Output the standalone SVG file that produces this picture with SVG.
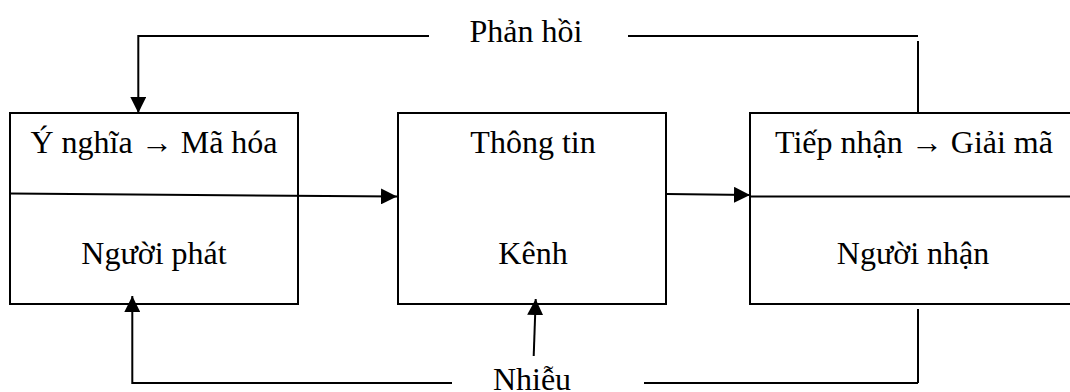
<svg xmlns="http://www.w3.org/2000/svg" width="1070" height="392" viewBox="0 0 1070 392">
  <style>
    .box { fill: #fff; stroke: #000; stroke-width: 2; }
    .ln { fill: none; stroke: #000; stroke-width: 2; }
    .t { font-family: "Liberation Serif", "Times New Roman", serif; font-size: 32px; fill: #000; text-anchor: middle; }
  </style>
  <defs>
    <marker id="ah" viewBox="0 0 16 16" refX="16" refY="8" markerWidth="16" markerHeight="16" markerUnits="userSpaceOnUse" orient="auto">
      <path d="M0,0 L16,8 L0,16 Z" fill="#000"/>
    </marker>
  </defs>
  <g id="sender">
    <rect class="box" x="10" y="113" width="288" height="191"/>
    <text class="t" x="154" y="153">Ý nghĩa → Mã hóa</text>
    <text class="t" x="154" y="264">Người phát</text>
  </g>
  <g id="channel">
    <rect class="box" x="398" y="113" width="268" height="191"/>
    <text class="t" x="533" y="153">Thông tin</text>
    <text class="t" x="533" y="264">Kênh</text>
  </g>
  <g id="receiver">
    <rect class="box" x="750" y="113" width="330" height="191"/>
    <line class="ln" x1="750" y1="196.5" x2="1070" y2="196.5"/>
    <text class="t" x="914" y="153">Tiếp nhận → Giải mã</text>
    <text class="t" x="913" y="264">Người nhận</text>
  </g>
  <g id="connectors">
    <line class="ln" x1="10" y1="193.5" x2="397" y2="196.5" marker-end="url(#ah)"/>
    <line class="ln" x1="667" y1="194" x2="750" y2="195" marker-end="url(#ah)"/>
    <polyline class="ln" points="429,36 138.3,36 138.3,113" marker-end="url(#ah)"/>
    <line class="ln" x1="628" y1="36" x2="918" y2="36"/>
    <line class="ln" x1="918" y1="41" x2="918" y2="113"/>
    <polyline class="ln" points="452,383 132.3,383 132.3,296" marker-end="url(#ah)"/>
    <line class="ln" x1="644" y1="383" x2="918" y2="383"/>
    <line class="ln" x1="918" y1="309" x2="918" y2="383"/>
    <line class="ln" x1="533.7" y1="356" x2="535.7" y2="299" marker-end="url(#ah)"/>
    <text class="t" x="526" y="42">Phản hồi</text>
    <text class="t" x="532" y="390">Nhiễu</text>
  </g>
</svg>
